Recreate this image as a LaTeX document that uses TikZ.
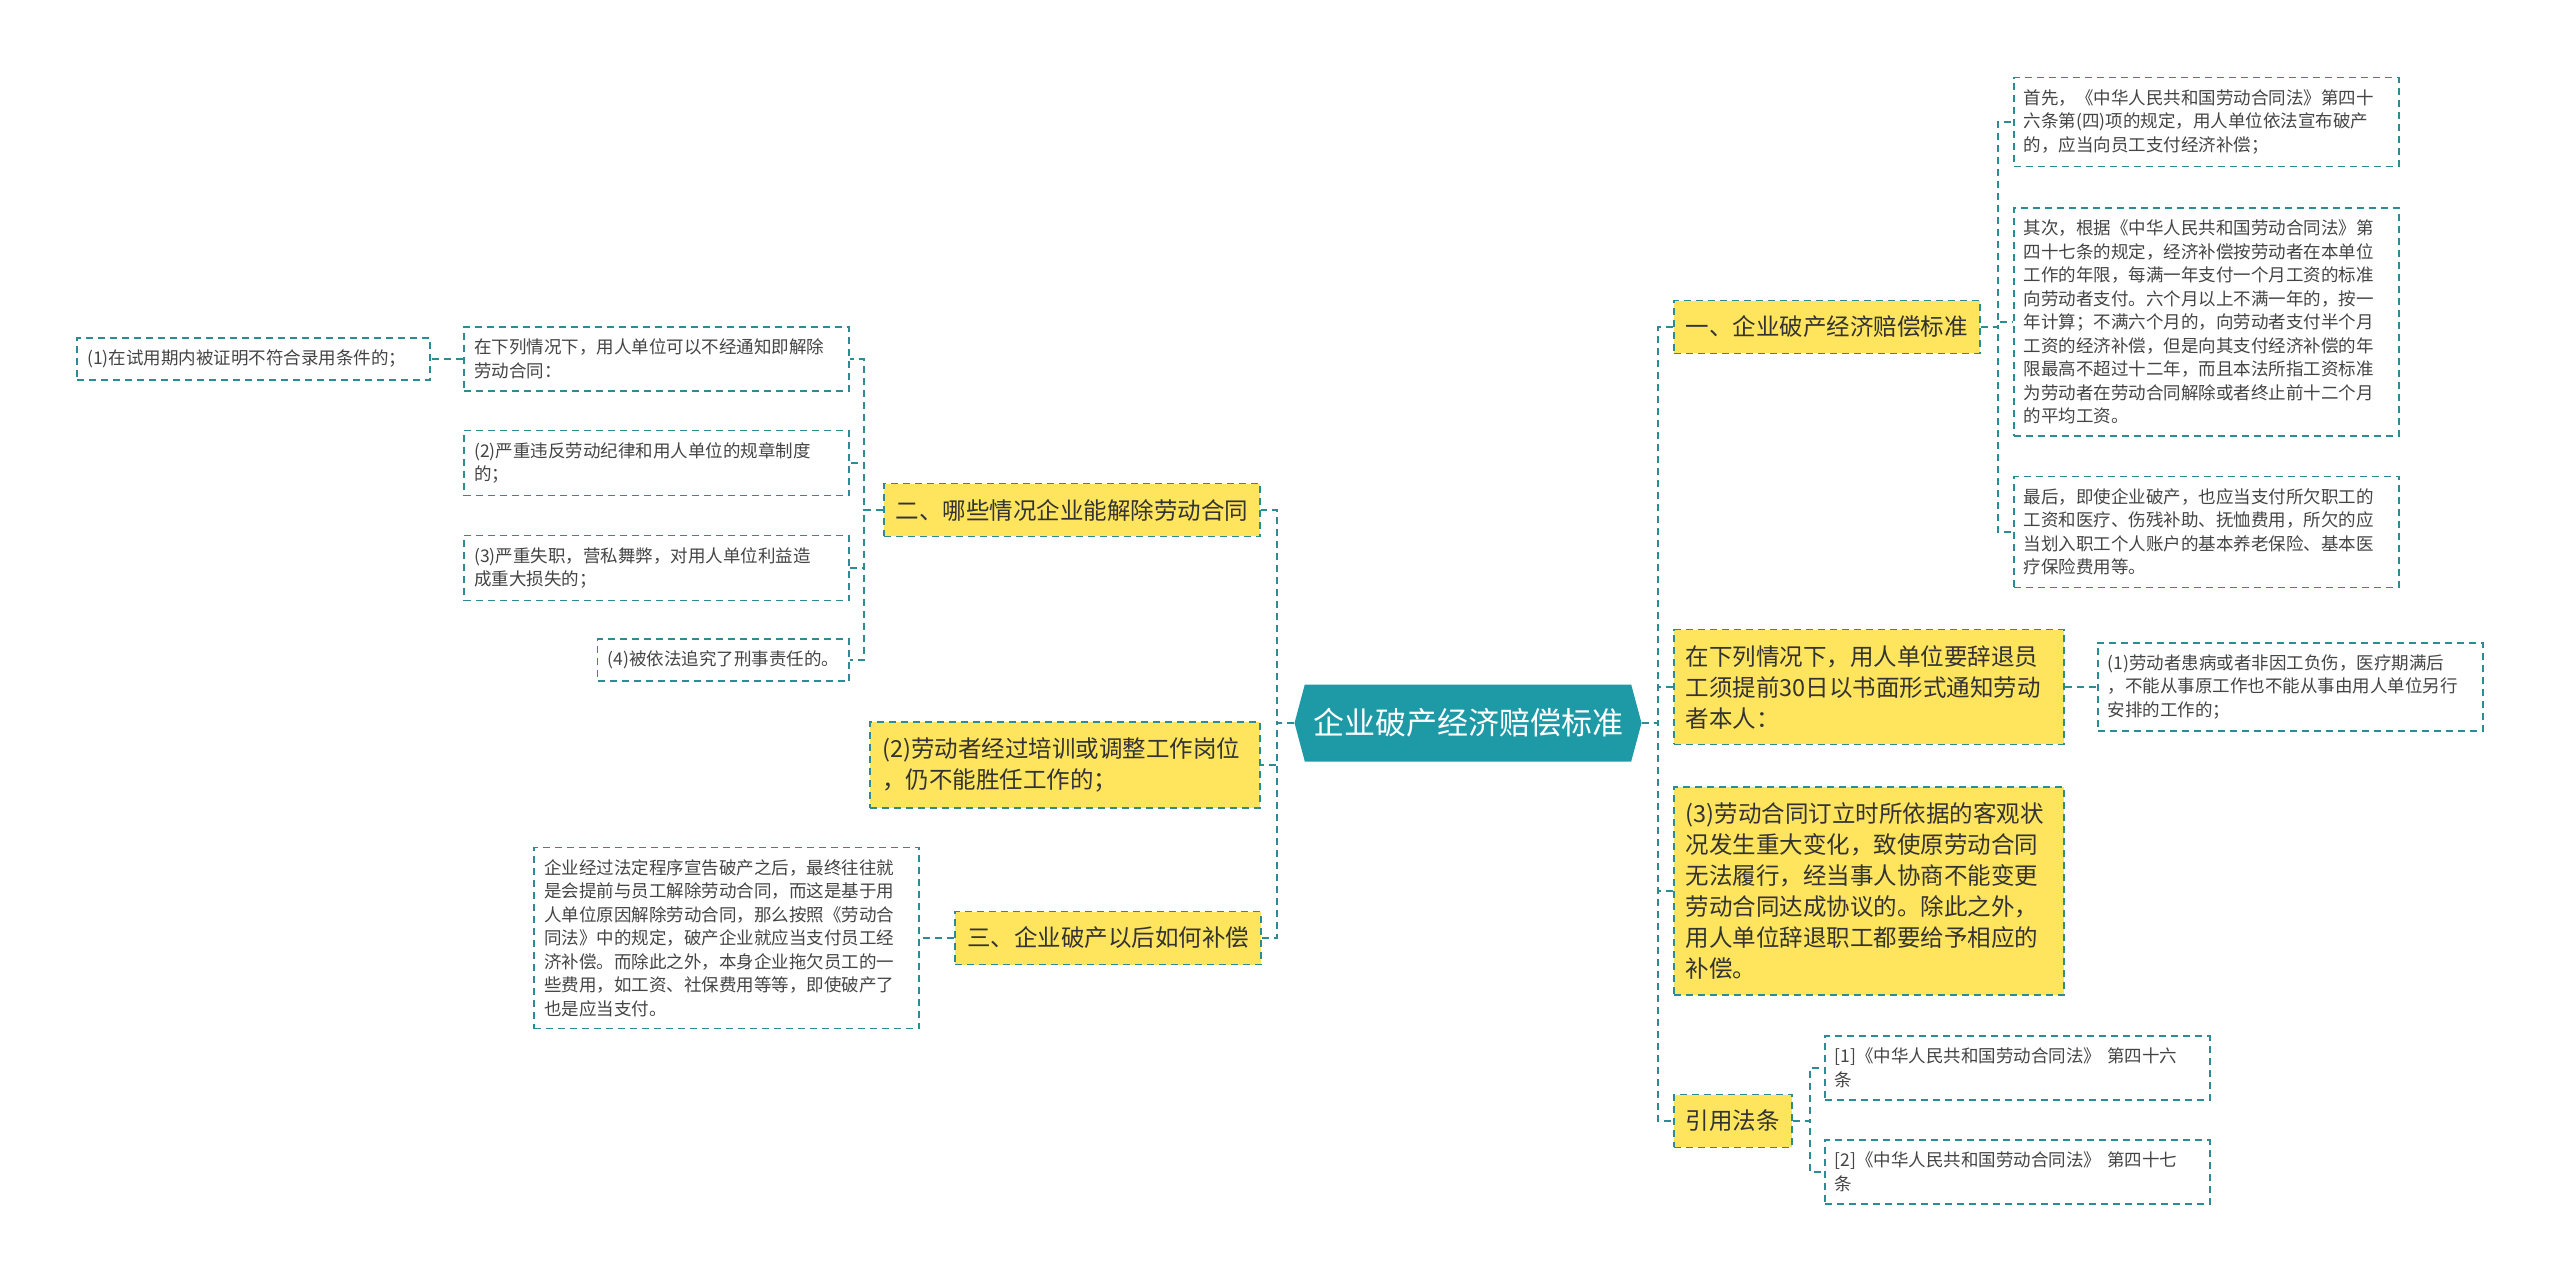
\documentclass[tikz,border=0pt]{standalone}
\usepackage{fontspec}
\setmainfont{Noto Sans CJK SC}
\usepackage{xcolor}
\usepackage{tikz}
\usetikzlibrary{positioning,shapes.symbols}
\definecolor{RootTeal}{HTML}{1E9AA6}
\definecolor{LineTeal}{HTML}{2B8C95}
\definecolor{BranchYellow}{HTML}{FFE45E}
\definecolor{TextDark}{HTML}{333333}
\definecolor{TextGrey}{HTML}{444444}

\begin{document}
\begin{tikzpicture}[x=1pt, y=-1pt,
  link/.style={draw=LineTeal, line width=1.8pt, dash pattern=on 7pt off 5pt},
  rootbox/.style={shape=signal, signal to=west and east, signal pointer angle=150,
    fill=RootTeal, text=white, minimum width=347pt, minimum height=77pt,
    inner sep=0pt, font=\fontsize{31}{36}\selectfont},
  branchbox/.style={draw=LineTeal, line width=1.6pt, dash pattern=on 7pt off 5pt,
    fill=BranchYellow, inner xsep=12pt, inner ysep=15.5pt, align=left,
    text=TextDark, font=\fontsize{23.5}{31}\selectfont},
  leafbox/.style={draw=LineTeal, line width=1.6pt, dash pattern=on 7pt off 5pt,
    fill=white, inner xsep=10pt, inner ysep=12pt, align=left,
    text=TextGrey, font=\fontsize{17.5}{23.5}\selectfont}]

\useasboundingbox[fill=white] (0,0) rectangle (2560,1284);

% centre
\node[rootbox] (root) at (1468,723) {企业破产经济赔偿标准};

% right side
\node[branchbox, anchor=west] (std) at (1673,327) {一、企业破产经济赔偿标准};
\node[branchbox, anchor=west, text width=366pt] (notice) at (1673,687) {在下列情况下，用人单位要辞退员\\工须提前30日以书面形式通知劳动\\者本人：};
\node[branchbox, anchor=west, text width=366pt] (change) at (1673,891) {(3)劳动合同订立时所依据的客观状\\况发生重大变化，致使原劳动合同\\无法履行，经当事人协商不能变更\\劳动合同达成协议的。除此之外，\\用人单位辞退职工都要给予相应的\\补偿。};
\node[branchbox, anchor=west] (law) at (1673,1121) {引用法条};

\node[leafbox, anchor=west, text width=365pt] (stdA) at (2013,122) {首先，《中华人民共和国劳动合同法》第四十\\六条第(四)项的规定，用人单位依法宣布破产\\的，应当向员工支付经济补偿；};
\node[leafbox, anchor=west, text width=365pt] (stdB) at (2013,322) {其次，根据《中华人民共和国劳动合同法》第\\四十七条的规定，经济补偿按劳动者在本单位\\工作的年限，每满一年支付一个月工资的标准\\向劳动者支付。六个月以上不满一年的，按一\\年计算；不满六个月的，向劳动者支付半个月\\工资的经济补偿，但是向其支付经济补偿的年\\限最高不超过十二年，而且本法所指工资标准\\为劳动者在劳动合同解除或者终止前十二个月\\的平均工资。};
\node[leafbox, anchor=west, text width=365pt] (stdC) at (2013,532) {最后，即使企业破产，也应当支付所欠职工的\\工资和医疗、伤残补助、抚恤费用，所欠的应\\当划入职工个人账户的基本养老保险、基本医\\疗保险费用等。};
\node[leafbox, anchor=west, text width=365pt] (noticeA) at (2097,687) {(1)劳动者患病或者非因工负伤，医疗期满后\\，不能从事原工作也不能从事由用人单位另行\\安排的工作的；};
\node[leafbox, anchor=west, text width=365pt] (lawA) at (1824,1068) {[1]《中华人民共和国劳动合同法》 第四十六\\条};
\node[leafbox, anchor=west, text width=365pt] (lawB) at (1824,1172) {[2]《中华人民共和国劳动合同法》 第四十七\\条};

% left side
\node[branchbox, anchor=east] (cases) at (1261,510) {二、哪些情况企业能解除劳动合同};
\node[branchbox, anchor=east, text width=366pt] (training) at (1261,765) {(2)劳动者经过培训或调整工作岗位\\，仍不能胜任工作的；};
\node[branchbox, anchor=east] (comp) at (1262,938) {三、企业破产以后如何补偿};

\node[leafbox, anchor=east, text width=365pt] (casesA) at (850,359) {在下列情况下，用人单位可以不经通知即解除\\劳动合同：};
\node[leafbox, anchor=east, text width=365pt] (casesB) at (850,463) {(2)严重违反劳动纪律和用人单位的规章制度\\的；};
\node[leafbox, anchor=east, text width=365pt] (casesC) at (850,568) {(3)严重失职，营私舞弊，对用人单位利益造\\成重大损失的；};
\node[leafbox, anchor=east] (casesD) at (850,660) {(4)被依法追究了刑事责任的。};
\node[leafbox, anchor=east, text width=333pt] (trial) at (431,359) {(1)在试用期内被证明不符合录用条件的；};
\node[leafbox, anchor=east, text width=365pt] (compA) at (920,938) {企业经过法定程序宣告破产之后，最终往往就\\是会提前与员工解除劳动合同，而这是基于用\\人单位原因解除劳动合同，那么按照《劳动合\\同法》中的规定，破产企业就应当支付员工经\\济补偿。而除此之外，本身企业拖欠员工的一\\些费用，如工资、社保费用等等，即使破产了\\也是应当支付。};

% connectors
\foreach \b in {std,notice,change,law}
  \draw[link] (root.east) -- ++(16,0) |- (\b.west);
\foreach \b in {cases,training,comp}
  \draw[link] (root.west) -- ++(-17,0) |- (\b.east);
\foreach \c in {stdA,stdB,stdC}
  \draw[link] (std.east) -- ++(17,0) |- (\c.west);
\foreach \c in {lawA,lawB}
  \draw[link] (law.east) -- ++(17,0) |- (\c.west);
\foreach \c in {casesA,casesB,casesC,casesD}
  \draw[link] (cases.west) -- ++(-19,0) |- (\c.east);
\draw[link] (notice.east) -- (noticeA.west);
\draw[link] (casesA.west) -- (trial.east);
\draw[link] (comp.west) -- (compA.east);
\end{tikzpicture}
\end{document}
